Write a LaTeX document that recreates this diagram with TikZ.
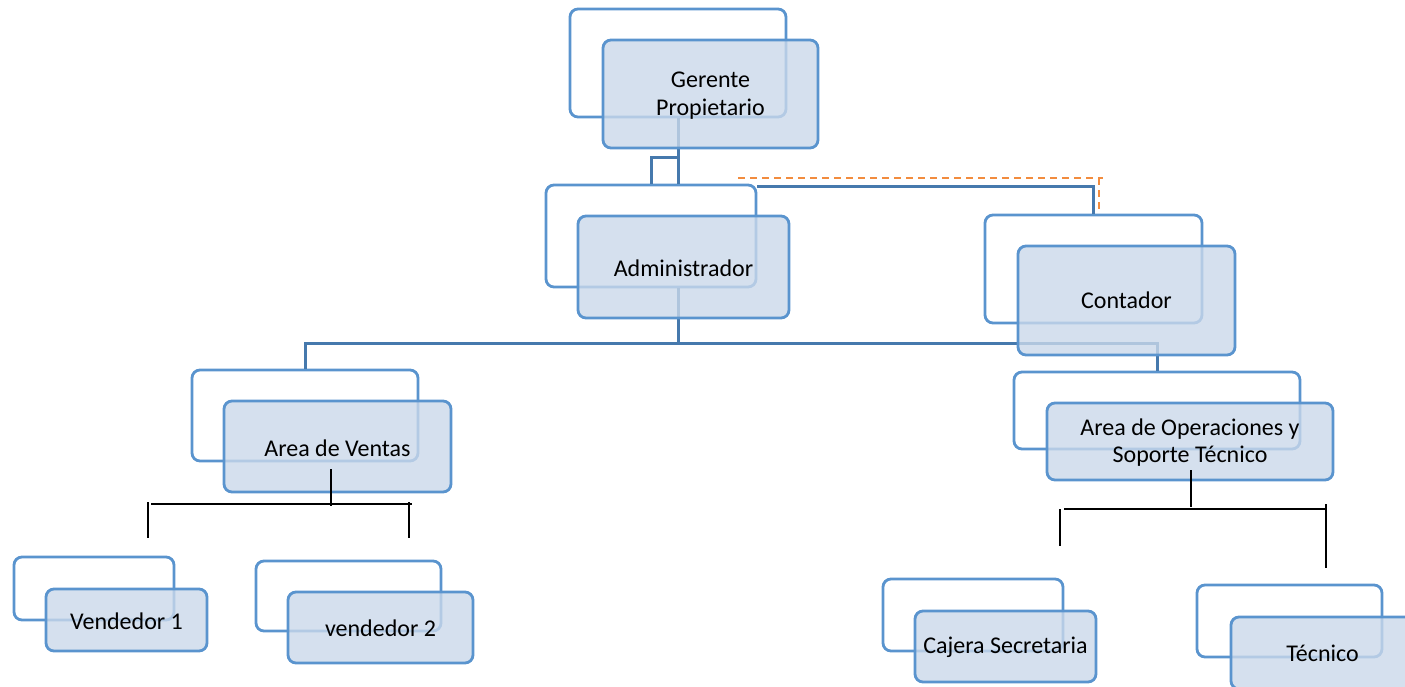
\documentclass[tikz,border=0pt]{standalone}
\usepackage{fontspec}
\setmainfont{Carlito}
\usetikzlibrary{calc}
\definecolor{boxline}{HTML}{5A94CE}
\definecolor{boxfill}{HTML}{CAD8EA}
\definecolor{conn}{HTML}{4679AD}
\definecolor{dashorange}{HTML}{F28C3E}
\tikzset{
 backbox/.style={draw=boxline, line width=2.8pt, rounded corners=8pt, inner sep=0pt},
 frontbox/.style={draw=boxline, line width=2.8pt, rounded corners=8pt, fill=boxfill, fill opacity=0.8, text opacity=1, inner sep=0pt, align=center, font=\fontsize{24}{27.5}\selectfont},
 link/.style={draw=conn, line width=3pt},
 blackline/.style={draw=black, line width=1.4pt},
 dashlink/.style={draw=dashorange, line width=2pt, dash pattern=on 7pt off 5pt},
}
\begin{document}
\begin{tikzpicture}[x=1pt,y=-1pt]
\useasboundingbox (0,0) rectangle (1405,686);
\clip (0,0) rectangle (1405,686);
% back boxes
\node[backbox, minimum width=216pt, minimum height=108pt] (gB) at (678,63) {};
\node[backbox, minimum width=210pt, minimum height=102pt] (aB) at (651,236) {};
\node[backbox, minimum width=217pt, minimum height=108pt] (cB) at (1093.5,269) {};
\node[backbox, minimum width=226pt, minimum height=91pt] (vB) at (305,415.5) {};
\node[backbox, minimum width=286pt, minimum height=77pt] (oB) at (1157,410.5) {};
\node[backbox, minimum width=160pt, minimum height=63pt] (v1B) at (94,588.5) {};
\node[backbox, minimum width=185pt, minimum height=70pt] (v2B) at (348.5,596) {};
\node[backbox, minimum width=180pt, minimum height=72pt] (csB) at (973,615) {};
\node[backbox, minimum width=185pt, minimum height=72pt] (tB) at (1289.5,621) {};
% connectors
\draw[link] (gB.south) -- (gB.south |- aB.north);
\coordinate (gK) at (678,157);
\draw[link] (gK) -| (aB.north);
\coordinate (aR) at ($(aB.north east)+(0,3)$);
\draw[link] (aR) -| (cB.north);
\coordinate (aS) at (aB.south -| gB.south);
\coordinate (aJ) at (678,343);
\draw[link] (aS) -- (aJ) -| (vB.north);
\draw[link] (aJ) -| (oB.north);
% dashed orange
\coordinate (d1) at (738,178);
\coordinate (d2) at (1103,178);
\coordinate (d3) at (1099,178);
\coordinate (d4) at (1099,212);
\draw[dashlink] (d1) -- (d2);
\draw[dashlink] (d3) -- (d4);
% front boxes
\node[frontbox, minimum width=215pt, minimum height=108pt] (g) at (710.5,94) {};
\node[frontbox, minimum width=211pt, minimum height=102pt] (a) at (683.5,267) {};
\node[frontbox, minimum width=217pt, minimum height=109pt] (c) at (1126.5,300.5) {};
\node[frontbox, minimum width=227pt, minimum height=91pt] (v) at (337.5,446.5) {};
\node[frontbox, minimum width=286pt, minimum height=77pt] (o) at (1190,441.5) {};
\node[frontbox, minimum width=161pt, minimum height=62pt] (v1) at (126.5,620) {};
\node[frontbox, minimum width=185pt, minimum height=71pt] (v2) at (380.5,627.5) {};
\node[frontbox, minimum width=181pt, minimum height=71pt] (cs) at (1005.5,646.5) {};
\node[frontbox, minimum width=183pt, minimum height=72pt] (t) at (1322.5,653) {};
% labels
\tikzset{lbl/.style={align=center, inner sep=0pt, font=\fontsize{24}{27.5}\selectfont}}
\node[lbl] (gT) at ($(g.center)+(0,1.5)$) {Gerente\\Propietario};
\node[lbl] (aT) at ($(a.center)+(0,1.5)$) {Administrador};
\node[lbl] (cT) at ($(c.center)+(0,0)$) {Contador};
\node[lbl] (vT) at ($(v.center)+(0,1.5)$) {Area de Ventas};
\node[lbl] (oT) at ($(o.center)+(0,1)$) {Area de Operaciones y\\Soporte Técnico};
\node[lbl] (v1T) at ($(v1.center)+(0,1)$) {Vendedor 1};
\node[lbl] (v2T) at ($(v2.center)+(0,1)$) {vendedor 2};
\node[lbl] (csT) at ($(cs.center)+(0,1)$) {Cajera Secretaria};
\node[lbl] (tT) at ($(t.center)+(0,0)$) {Técnico};
% black lines under Area de Ventas
\coordinate (b1) at (331,469); \coordinate (b2) at (331,506);
\coordinate (b3) at (151,504); \coordinate (b4) at (412,504);
\coordinate (b5) at (148,502); \coordinate (b6) at (148,538);
\coordinate (b7) at (409,502); \coordinate (b8) at (409,538);
\draw[blackline] (b1) -- (b2);
\draw[blackline] (b3) -- (b4);
\draw[blackline] (b5) -- (b6);
\draw[blackline] (b7) -- (b8);
% black lines under Area de Operaciones
\coordinate (k1) at (1191,470); \coordinate (k2) at (1191,507);
\coordinate (k3) at (1064,509); \coordinate (k4) at (1325,509);
\coordinate (k5) at (1060,509); \coordinate (k6) at (1060,546);
\coordinate (k7) at (1326,504); \coordinate (k8) at (1326,568);
\draw[blackline] (k1) -- (k2);
\draw[blackline] (k3) -- (k4);
\draw[blackline] (k5) -- (k6);
\draw[blackline] (k7) -- (k8);
\end{tikzpicture}
\end{document}
